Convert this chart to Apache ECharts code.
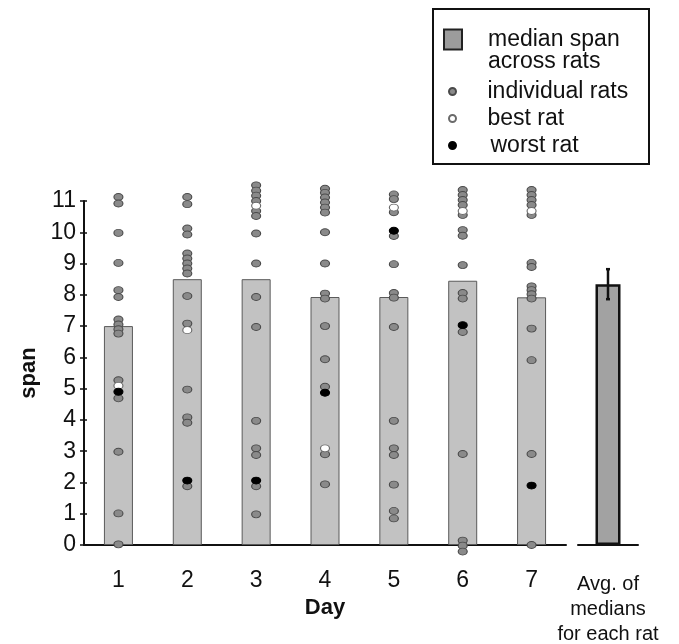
<!DOCTYPE html>
<html>
<head>
<meta charset="utf-8">
<script src="https://cdn.jsdelivr.net/npm/echarts@6/dist/echarts.min.js"></script>
<style>
  html, body { margin: 0; padding: 0; background: #fff; }
  #chart { width: 679px; height: 644px; }
</style>
</head>
<body>
<div id="chart"></div>
<script>
// days and median span per day
var days = ['1', '2', '3', '4', '5', '6', '7'];
var medianSpan = [7.0, 8.5, 8.5, 7.93, 7.93, 8.45, 7.92];

// individual rats (grey dots)
var ratsDay1 = [11.13, 10.92, 9.98, 9.02, 8.15, 7.93, 7.21, 7.05, 6.9, 6.76, 5.27, 4.69, 2.98, 1.01, 0.02];
var ratsDay2 = [11.13, 10.9, 10.12, 9.93, 9.32, 9.16, 9.0, 8.84, 8.68, 7.96, 7.08, 4.97, 4.08, 3.91, 1.88];
var ratsDay3 = [11.5, 11.33, 11.17, 11.0, 10.68, 10.52, 9.96, 9.0, 7.93, 6.97, 3.97, 3.09, 2.88, 1.88, 0.98];
var ratsDay4 = [11.39, 11.26, 11.11, 10.95, 10.79, 10.63, 10.0, 9.0, 8.04, 7.88, 7.0, 5.94, 5.06, 2.9, 1.94];
var ratsDay5 = [11.21, 11.06, 10.64, 9.88, 8.98, 8.06, 7.91, 6.97, 3.97, 3.09, 2.88, 1.93, 1.09, 0.85];
var ratsDay6 = [11.35, 11.19, 11.03, 10.87, 10.55, 10.07, 9.89, 8.95, 8.06, 7.88, 6.81, 2.91, 0.14, -0.02, -0.21];
var ratsDay7 = [11.35, 11.19, 11.03, 10.87, 10.55, 9.02, 8.89, 8.27, 8.15, 8.02, 7.88, 6.92, 5.91, 2.91, 0.0];

// best rat (white dot) and worst rat (black dot) for each day
var bestRat = [5.09, 6.87, 10.85, 3.09, 10.79, 10.68, 10.68];
var worstRat = [4.9, 2.06, 2.06, 4.87, 10.05, 7.03, 1.9];

// right hand bar
var avgLabel = 'Avg. of\nmedians\nfor each rat';
var avgOfMedians = 8.34;
var avgErrLow = 7.86;
var avgErrHigh = 8.82;

var yTicks = { min: 0, max: 11, interval: 1 };

var font = '"Liberation Sans", Arial, sans-serif';

function toPoints(list) {
    var pts = [];
    for (var d = 0; d < list.length; d++) {
        for (var i = 0; i < list[d].length; i++) {
            pts.push([d, list[d][i]]);
        }
    }
    return pts;
}

var ratPoints = toPoints([ratsDay1, ratsDay2, ratsDay3, ratsDay4, ratsDay5, ratsDay6, ratsDay7]);
var bestPoints = bestRat.map(function (v, i) { return [i, v]; });
var worstPoints = worstRat.map(function (v, i) { return [i, v]; });

var myChart = echarts.init(document.getElementById('chart'));

var axisLine = { lineStyle: { color: '#111', width: 2 } };

var option = {
    backgroundColor: '#fff',
    animation: false,
    textStyle: { fontFamily: font },
    graphic: [{
        type: 'rect',
        shape: { x: 433, y: 9, width: 216, height: 155 },
        style: { fill: 'none', stroke: '#111', lineWidth: 2 }
    }],
    legend: [{
        data: [{
            name: 'median span\nacross rats',
            icon: 'rect',
            itemStyle: { color: '#9c9c9c', borderColor: '#222', borderWidth: 2 }
        }],
        // blank first line so the icon sits beside "median span"
        formatter: function (name) { return '\n' + name; },
        left: 438,
        top: 1,
        itemWidth: 18,
        itemHeight: 20,
        selectedMode: false,
        textStyle: { fontFamily: font, fontSize: 23, lineHeight: 22, color: '#111', padding: [0, 0, 0, 21] }
    }, {
        data: ['individual rats', 'best rat', {
            name: 'worst rat',
            textStyle: { padding: [0, 0, 0, 29] }
        }],
        orient: 'vertical',
        left: 443,
        top: 75,
        itemWidth: 8,
        itemHeight: 7,
        itemGap: 4,
        selectedMode: false,
        textStyle: { fontFamily: font, fontSize: 23, lineHeight: 21, color: '#111', padding: [0, 0, 0, 26] }
    }],
    grid: [
        { left: 84, right: 113, top: 201, bottom: 99, outerBoundsMode: 'none' },
        { left: 578, width: 60, top: 201, bottom: 99, outerBoundsMode: 'none' }
    ],
    xAxis: [{
        gridIndex: 0,
        type: 'category',
        data: days,
        name: 'Day',
        nameLocation: 'middle',
        nameGap: 52,
        nameTextStyle: { fontFamily: font, fontSize: 22, fontWeight: 'bold', color: '#111' },
        axisLine: axisLine,
        axisTick: { length: 5, lineStyle: { color: '#111', width: 1.5 } },
        axisLabel: { fontFamily: font, fontSize: 23, color: '#111', margin: 24 }
    }, {
        gridIndex: 0,
        type: 'category',
        data: days,
        position: 'bottom',
        axisLine: { show: false },
        axisTick: { inside: true, length: 4, lineStyle: { color: '#111', width: 1.5 } },
        axisLabel: { show: false }
    }, {
        gridIndex: 1,
        type: 'category',
        data: [avgLabel],
        axisLine: axisLine,
        axisTick: { length: 6, lineStyle: { color: '#111', width: 2 } },
        axisLabel: { fontFamily: font, fontSize: 20, lineHeight: 25, color: '#111', margin: 27, interval: 0 }
    }, {
        gridIndex: 1,
        type: 'category',
        data: [avgLabel],
        position: 'bottom',
        axisLine: { show: false },
        axisTick: { inside: true, length: 6, lineStyle: { color: '#111', width: 2 } },
        axisLabel: { show: false }
    }],
    yAxis: [{
        gridIndex: 0,
        type: 'value',
        min: yTicks.min,
        max: yTicks.max,
        interval: yTicks.interval,
        name: 'span',
        nameLocation: 'middle',
        nameGap: 43,
        nameTextStyle: { fontFamily: font, fontSize: 22, fontWeight: 'bold', color: '#111' },
        axisLine: { show: true, lineStyle: { color: '#111', width: 2 } },
        axisTick: { show: true, length: 4, lineStyle: { color: '#111', width: 1.5 } },
        axisLabel: { fontFamily: font, fontSize: 23, color: '#111', margin: 8 },
        splitLine: { show: false }
    }, {
        gridIndex: 0,
        type: 'value',
        min: yTicks.min,
        max: yTicks.max,
        interval: yTicks.interval,
        position: 'left',
        axisLine: { show: false },
        axisTick: { show: true, inside: true, length: 3, lineStyle: { color: '#111', width: 1.5 } },
        axisLabel: { show: false },
        splitLine: { show: false }
    }, {
        gridIndex: 1,
        type: 'value',
        min: yTicks.min,
        max: yTicks.max,
        show: false
    }],
    series: [{
        name: 'median span\nacross rats',
        type: 'bar',
        xAxisIndex: 0,
        yAxisIndex: 0,
        barWidth: 29,
        data: medianSpan,
        itemStyle: { color: '#c2c2c2', borderColor: '#5a5a5a', borderWidth: 1 }
    }, {
        name: 'avg',
        type: 'bar',
        xAxisIndex: 2,
        yAxisIndex: 2,
        barWidth: 25,
        data: [avgOfMedians],
        itemStyle: { color: '#a2a2a2', borderColor: '#111', borderWidth: 2.5 }
    }, {
        name: 'avg error',
        type: 'custom',
        xAxisIndex: 2,
        yAxisIndex: 2,
        data: [[0, avgErrLow, avgErrHigh]],
        renderItem: function (params, api) {
            var lo = api.coord([api.value(0), api.value(1)]);
            var hi = api.coord([api.value(0), api.value(2)]);
            var w = 2;
            return {
                type: 'group',
                children: [
                    { type: 'line', shape: { x1: hi[0], y1: hi[1], x2: lo[0], y2: lo[1] }, style: { stroke: '#111', lineWidth: 2.5 } },
                    { type: 'line', shape: { x1: hi[0] - w, y1: hi[1], x2: hi[0] + w, y2: hi[1] }, style: { stroke: '#111', lineWidth: 2.5 } },
                    { type: 'line', shape: { x1: lo[0] - w, y1: lo[1], x2: lo[0] + w, y2: lo[1] }, style: { stroke: '#111', lineWidth: 2.5 } }
                ]
            };
        },
        z: 5
    }, {
        name: 'individual rats',
        type: 'scatter',
        xAxisIndex: 0,
        yAxisIndex: 0,
        clip: false,
        symbol: 'circle',
        symbolSize: [9, 7],
        data: ratPoints,
        itemStyle: { color: '#8a8a8a', borderColor: '#4a4a4a', borderWidth: 1, opacity: 1 }
    }, {
        name: 'best rat',
        type: 'scatter',
        xAxisIndex: 0,
        yAxisIndex: 0,
        clip: false,
        symbol: 'circle',
        symbolSize: [9, 7],
        data: bestPoints,
        itemStyle: { color: '#ffffff', borderColor: '#6a6a6a', borderWidth: 1, opacity: 1 }
    }, {
        name: 'worst rat',
        type: 'scatter',
        xAxisIndex: 0,
        yAxisIndex: 0,
        clip: false,
        symbol: 'circle',
        symbolSize: [9, 7],
        data: worstPoints,
        itemStyle: { color: '#000000', borderColor: '#000000', borderWidth: 1, opacity: 1 }
    }]
};

myChart.setOption(option);
</script>
</body>
</html>
